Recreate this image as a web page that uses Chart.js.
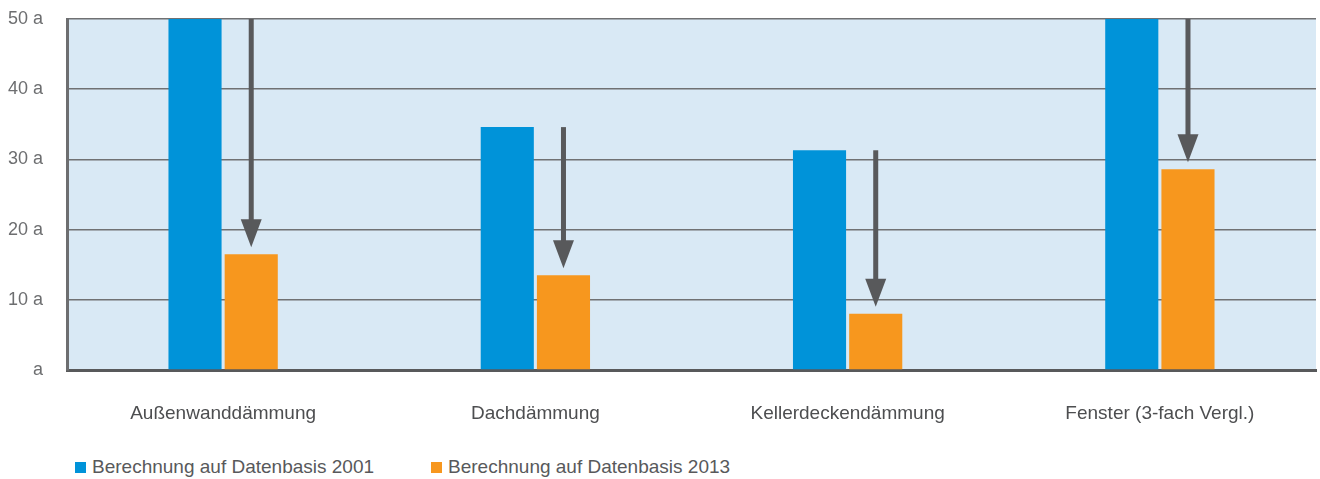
<!DOCTYPE html>
<html lang="de">
<head>
<meta charset="UTF-8" />
<title>Amortisationszeit</title>
<script src="https://cdn.jsdelivr.net/npm/chart.js@4.4.1/dist/chart.umd.min.js"></script>
<style>
  body { margin: 0; background: #fff; }
  #wrap { position: relative; width: 1320px; height: 479px; overflow: hidden; }
  #legend { position: absolute; left: 75px; top: 456px; display: flex; font-family: "Liberation Sans", Arial, sans-serif; font-size: 19px; color: #58595b; }
  #legend .item { display: flex; align-items: center; margin-right: 57px; }
  #legend .box { width: 11px; height: 11px; margin-right: 6px; }
</style>
</head>
<body>
<div id="wrap">
  <canvas id="chart" width="1320" height="445"></canvas>
  <div id="legend"></div>
</div>
<script>
  const categories = ["Außenwanddämmung", "Dachdämmung", "Kellerdeckendämmung", "Fenster (3-fach Vergl.)"];
  const seriesNames = ["Berechnung auf Datenbasis 2001", "Berechnung auf Datenbasis 2013"];
  // 2001-Werte für Außenwand und Fenster gehen über den Rand (> 50 a)
  const values2001 = [55, 34.6, 31.3, 55];
  const values2013 = [16.5, 13.5, 8, 28.6];
  const yTicks = [0, 10, 20, 30, 40, 50];
  const colors = ["#0093d9", "#f7971e"];

  const areaBg = {
    id: "areaBg",
    beforeDraw(chart) {
      const a = chart.chartArea, ctx = chart.ctx;
      ctx.save();
      ctx.fillStyle = "#d9e9f5";
      ctx.fillRect(a.left, a.top, a.right - a.left, a.bottom - a.top);
      ctx.restore();
    }
  };

  // Pfeile von der 2001-Höhe zur 2013-Höhe, über dem orangen Balken
  const arrows = {
    id: "arrows",
    afterDatasetsDraw(chart) {
      const ctx = chart.ctx, a = chart.chartArea;
      const m0 = chart.getDatasetMeta(0), m1 = chart.getDatasetMeta(1);
      ctx.save();
      ctx.beginPath();
      ctx.rect(a.left, a.top, a.right - a.left, a.bottom - a.top);
      ctx.clip();
      ctx.fillStyle = "#58595b";
      m1.data.forEach((bar, i) => {
        const x = bar.x;
        const y0 = Math.max(a.top, m0.data[i].y);
        const tip = bar.y - 7;
        const headH = 28, headW = 21, shaft = 5;
        ctx.fillRect(x - shaft / 2, y0, shaft, tip - headH - y0 + 1);
        ctx.beginPath();
        ctx.moveTo(x - headW / 2, tip - headH);
        ctx.lineTo(x + headW / 2, tip - headH);
        ctx.lineTo(x, tip);
        ctx.closePath();
        ctx.fill();
      });
      ctx.restore();
    }
  };

  new Chart(document.getElementById("chart"), {
    type: "bar",
    data: {
      labels: categories,
      datasets: [
        { label: seriesNames[0], data: values2001, backgroundColor: colors[0] },
        { label: seriesNames[1], data: values2013, backgroundColor: colors[1] }
      ]
    },
    options: {
      responsive: false,
      animation: false,
      categoryPercentage: 0.36,
      barPercentage: 0.945,
      layout: { padding: { left: 8, top: 19, right: 4, bottom: 0 } },
      plugins: { legend: { display: false }, tooltip: { enabled: false } },
      scales: {
        x: {
          grid: { display: false, drawTicks: false },
          border: { color: "#58595b", width: 3 },
          ticks: {
            padding: 32,
            color: "#4d4e50",
            font: { family: "Liberation Sans", size: 19 }
          },
          afterFit(s) { s.height = 75; }
        },
        y: {
          min: 0,
          max: 50,
          afterBuildTicks(s) { s.ticks = yTicks.map(v => ({ value: v })); },
          grid: { color: "#707173", lineWidth: 1.5, drawTicks: false },
          border: { color: "#6d6e70", width: 3 },
          ticks: {
            crossAlign: "far",
            padding: 0,
            color: "#6d6e70",
            font: { family: "Liberation Sans", size: 18 },
            // Null ohne Zahl, "a" bündig unter den anderen Einheiten
            callback: v => (v === 0 ? "\u2007\u2007 a" : v + " a")
          },
          afterFit(s) { s.width = 59; }
        }
      }
    },
    plugins: [areaBg, arrows]
  });

  const legend = document.getElementById("legend");
  seriesNames.forEach((name, i) => {
    const item = document.createElement("div");
    item.className = "item";
    item.innerHTML = '<span class="box" style="background:' + colors[i] + '"></span><span>' + name + "</span>";
    legend.appendChild(item);
  });
</script>
</body>
</html>
